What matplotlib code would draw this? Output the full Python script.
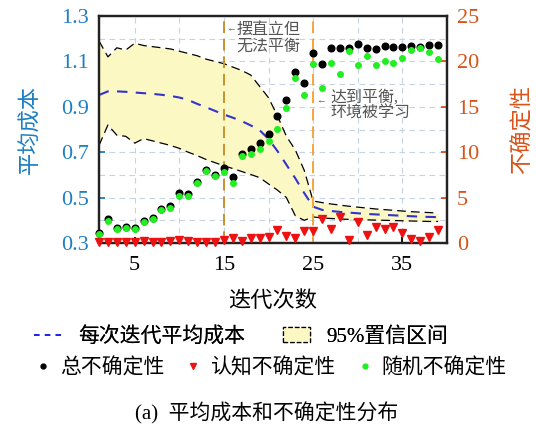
import numpy as np
import matplotlib
matplotlib.use("Agg")
import matplotlib.pyplot as plt
from matplotlib.lines import Line2D
from matplotlib.patches import Patch
from matplotlib.ticker import MultipleLocator

plt.rcParams['font.family'] = ['Liberation Serif', 'Noto Sans CJK SC']
plt.rcParams['axes.unicode_minus'] = False

# --- datos ---
iters = np.arange(1, 40)

mean_cost = [0.952, 0.968, 0.968, 0.966, 0.963, 0.960, 0.957, 0.953, 0.948, 0.941,
             0.930, 0.913, 0.898, 0.882, 0.866, 0.852, 0.837, 0.818, 0.797, 0.758,
             0.705, 0.645, 0.585, 0.520, 0.460, 0.446, 0.441, 0.437, 0.434, 0.431,
             0.428, 0.426, 0.424, 0.422, 0.420, 0.418, 0.416, 0.415, 0.414]

ci_upper = [1.19, 1.12, 1.16, 1.15, 1.18, 1.17, 1.165, 1.16, 1.155, 1.145,
            1.135, 1.125, 1.11, 1.10, 1.09, 1.075, 1.06, 1.04, 0.99, 0.94,
            0.86, 0.77, 0.71, 0.62, 0.485, 0.478, 0.472, 0.467, 0.462, 0.458,
            0.454, 0.450, 0.447, 0.444, 0.441, 0.438, 0.436, 0.434, 0.432]

ci_lower = [0.73, 0.82, 0.775, 0.77, 0.74, 0.76, 0.75, 0.74, 0.73, 0.717,
            0.70, 0.685, 0.668, 0.654, 0.64, 0.628, 0.615, 0.602, 0.588, 0.56,
            0.533, 0.50, 0.42, 0.40, 0.415, 0.410, 0.408, 0.406, 0.404, 0.403,
            0.402, 0.401, 0.400, 0.399, 0.398, 0.397, 0.396, 0.395, 0.395]

total_unc = [1.13, 2.6, 1.62, 1.73, 1.62, 2.46, 2.72, 3.78, 4.07, 5.54,
             5.36, 6.75, 8.04, 7.49, 8.22, 7.3, 9.8, 10.35, 11.05, 12.0,
             13.99, 15.75, 18.83, 17.65, 20.96, 19.75, 21.44, 21.44, 21.5, 21.88,
             21.5, 21.37, 21.7, 21.62, 21.62, 21.7, 21.62, 21.77, 21.77]

epist_unc = [0.15, 0.15, 0.15, 0.15, 0.15, 0.18, 0.15, 0.15, 0.18, 0.35,
             0.2, 0.15, 0.12, 0.15, 0.33, 0.59, 0.26, 0.51, 0.51, 0.7,
             1.43, 0.81, 0.55, 1.32, 1.32, 2.64, 1.54, 2.83, 0.33, 2.31,
             0.88, 1.8, 1.51, 1.8, 1.13, 0.44, 0.22, 0.7, 1.43]

alea_unc = [1.0, 2.45, 1.5, 1.6, 1.5, 2.3, 2.6, 3.65, 3.9, 5.2,
            5.15, 6.6, 7.9, 7.35, 7.85, 6.64, 9.6, 9.8, 10.4, 11.23,
            12.56, 14.83, 18.17, 16.26, 19.68, 17.1, 19.86, 18.58, 21.18, 19.57,
            20.6, 19.57, 20.08, 19.79, 20.41, 21.26, 21.44, 21.0, 20.3]

c_left = '#1f7fc4'
c_right = '#d95319'

fig = plt.figure(figsize=(5.36, 4.28), dpi=100)
ax = fig.add_axes([0.1847, 0.4322, 0.6493, 0.5304])
ax2 = ax.twinx()

# Rejilla
ax.set_xlim(1, 40)
ax.set_ylim(0.3, 1.3)
ax.set_xticks([5, 15, 25, 35])
ax.xaxis.set_minor_locator(MultipleLocator(5))
ax.set_yticks(np.arange(0.3, 1.31, 0.2))
ax.yaxis.set_minor_locator(MultipleLocator(0.1))
ax.grid(True, which='both', color='#c5d3e3', linestyle=(0, (5, 4)), linewidth=0.8)
ax.set_axisbelow(True)

# Intervalo de confianza
ax.fill_between(iters, ci_lower, ci_upper, color='#fcf8c4', linewidth=0, zorder=1)
ax.plot(iters, ci_upper, color='black', linestyle=(0, (7, 4)), linewidth=0.9, zorder=2)
ax.plot(iters, ci_lower, color='black', linestyle=(0, (7, 4)), linewidth=0.9, zorder=2)
ax.plot(iters, mean_cost, color='#3333cc', linestyle=(0, (5, 4)), linewidth=1.5, zorder=3)

ax.axvline(15, color='#c8922e', linestyle=(0, (6, 3)), linewidth=1.4, zorder=3)
ax.axvline(25, color='#f5a53c', linestyle=(0, (6, 3)), linewidth=1.4, zorder=3)

# Incertidumbre (eje derecho)
ax2.set_ylim(0, 25)
ax2.set_yticks([0, 5, 10, 15, 20, 25])
ax2.plot(iters, total_unc, 'o', color='black', markersize=4.8, zorder=4, clip_on=False)
ax2.plot(iters, alea_unc, 'o', color='#22ee22', markersize=4.0, zorder=5, clip_on=False)
ax2.plot(iters, epist_unc, 'v', color='#ee1111', markersize=6.2, zorder=5, clip_on=False)

# Ejes
for a in (ax, ax2):
    for s in a.spines.values():
        s.set_linewidth(1.6)
        s.set_color('#222222')
ax.tick_params(axis='x', direction='in', length=4, width=1.3, labelsize=16, pad=9)
ax.tick_params(axis='x', which='minor', length=0)
ax.tick_params(axis='y', direction='in', length=4, width=1.3, labelsize=16, pad=7,
               colors=c_left)
ax.tick_params(axis='y', which='minor', length=0)
ax2.tick_params(axis='y', direction='in', length=4, width=1.3, labelsize=16, pad=7,
                colors=c_right)
ax.set_yticklabels(['0.3', '0.5', '0.7', '0.9', '1.1', '1.3'])

ax.set_ylabel('平均成本', color=c_left, fontsize=16, labelpad=14)
ax2.set_ylabel('不确定性', color=c_right, fontsize=16, labelpad=24)
ax.set_xlabel('迭代次数', fontsize=16, labelpad=12)

# Anotaciones
ax.text(15.2, 1.245, '←', fontsize=7, color='#555555', va='center')
ax.text(16.4, 1.202, '摆直立但\n无法平衡', fontsize=11.5, color='#555555',
        va='center', linespacing=1.0)
ax.text(25.35, 0.925, '←', fontsize=7, color='#555555', va='center')
ax.text(26.9, 0.905, '达到平衡,\n环境被学习', fontsize=11.5, color='#555555',
        va='center', linespacing=1.0)

# Leyendas
h1 = Line2D([], [], color='#2222ee', linestyle=(0, (3, 3)), linewidth=1.3)
h2 = Patch(facecolor='#fcf8c4', edgecolor='black', linestyle='--', linewidth=0.9)
leg1 = fig.legend([h1, h2], ['每次迭代平均成本', '95%置信区间'], ncol=2,
                  loc='center', bbox_to_anchor=(0.45, 0.213), frameon=False,
                  fontsize=15, handlelength=1.3, handletextpad=0.8, columnspacing=1.8)
h3 = Line2D([], [], marker='o', color='black', linestyle='none', markersize=3.5)
h4 = Line2D([], [], marker='v', color='#ee1111', linestyle='none', markersize=5)
h5 = Line2D([], [], marker='o', color='#22ee22', linestyle='none', markersize=3.5)
leg2 = fig.legend([h3, h4, h5], ['总不确定性', '认知不确定性', '随机不确定性'], ncol=3,
                  loc='center', bbox_to_anchor=(0.505, 0.14), frameon=False,
                  fontsize=15, handlelength=0.8, handletextpad=0.4, columnspacing=1.0)
fig.add_artist(leg1)

fig.text(0.498, 0.035, '(a)  平均成本和不确定性分布', fontsize=15, ha='center', va='center')

plt.savefig('out.png', dpi=100)
